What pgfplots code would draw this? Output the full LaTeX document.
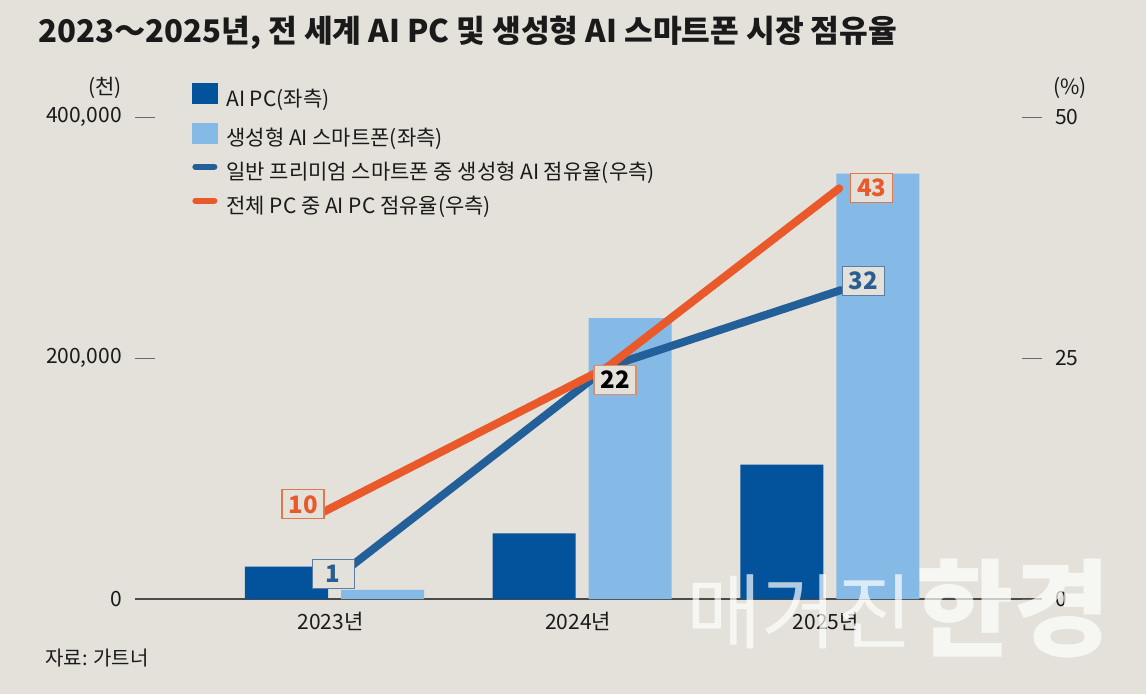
\documentclass[border=0pt]{standalone}
\usepackage{fontspec}
\setmainfont{Noto Sans CJK KR}
\usepackage{pgfplots}
\pgfplotsset{compat=1.18}
\definecolor{bg}{HTML}{E3E1DA}
\definecolor{txt}{HTML}{1A1A1A}
\definecolor{darkbar}{HTML}{02529C}
\definecolor{lightbar}{HTML}{85BAE6}
\definecolor{blueline}{HTML}{23609A}
\definecolor{orangeline}{HTML}{E9592A}
\definecolor{tickc}{HTML}{6A6A6A}
\definecolor{axisc}{HTML}{4A4A4A}
\definecolor{orangeb}{HTML}{E0784C}
\definecolor{blueb}{HTML}{5A7DA2}
\definecolor{saltb}{HTML}{D98E6C}
\definecolor{bluetxt}{HTML}{2A5E92}
\tikzset{lab/.style={fill=bg, minimum width=42pt, minimum height=29pt, inner sep=0pt,
    line width=1.3pt, font=\bfseries\fontsize{24}{24}\selectfont}}
\begin{document}
\begin{tikzpicture}
\useasboundingbox (0pt,0pt) rectangle (1146pt,694pt);
\fill[bg] (0pt,0pt) rectangle (1146pt,694pt);
\node[anchor=base west, inner sep=0pt, text=txt, font=\bfseries\fontsize{31.2}{36}\selectfont] at (38pt,651pt) {2023～2025년, 전 세계 AI PC 및 생성형 AI 스마트폰 시장 점유율};
\node[anchor=east, inner sep=0pt, text=txt, font=\fontsize{21}{24}\selectfont] at (122pt,606pt) {(천)};
\node[anchor=west, inner sep=0pt, text=txt, font=\fontsize{21}{24}\selectfont] at (1053pt,606pt) {(\%)};
\node[anchor=west, inner sep=0pt, text=txt, font=\fontsize{20}{24}\selectfont] at (45pt,36pt) {자료: 가트너};

\begin{axis}[
  at={(135pt,95pt)}, anchor=south west, scale only axis,
  width=907pt, height=482pt,
  xmin=-0.8056, xmax=2.857, ymin=0, ymax=400000,
  axis x line*=bottom, axis y line*=left,
  x axis line style={draw=axisc, line width=1.2pt},
  y axis line style={draw=none},
  xtick={0,1,2}, xticklabels={2023년,2024년,2025년},
  xtick style={draw=none},
  ytick={0,200000,400000}, yticklabels={0,{200,000},{400,000}},
  scaled y ticks=false,
  tick align=inside, major tick length=20pt,
  ytick style={draw=tickc, line width=1pt},
  tick label style={font=\fontsize{21}{24}\selectfont, text=txt},
  yticklabel style={inner sep=0pt, xshift=-13pt},
  xticklabel style={inner sep=0pt, yshift=-13pt, xshift=-4pt},
  clip=false,
  legend style={at={(0.0628,1.070)}, anchor=north west, draw=none, fill=none,
    inner sep=0pt, row sep=10pt, font=\fontsize{21}{24}\selectfont,
    nodes={inner sep=1pt, text=txt, text height=17pt, text depth=5pt},
    /tikz/every even column/.append style={column sep=0pt}},
  legend cell align=left,
]
\addplot[ybar, bar width=83pt, bar shift=-48pt, fill=darkbar, draw=none, forget plot]
  coordinates {(0,26800) (1,54500) (2,111500)};
\addplot[ybar, bar width=83pt, bar shift=48pt, fill=lightbar, draw=none, forget plot]
  coordinates {(0,7500) (1,233000) (2,353000)};
\addlegendimage{legend image code/.code={\fill[darkbar] (0pt,-3pt) rectangle (25pt,17pt); \path[draw=none] (0pt,7pt) -- (33pt,7pt);}}
\addlegendentry{AI PC(좌측)}
\addlegendimage{legend image code/.code={\fill[lightbar] (0pt,-3pt) rectangle (25pt,17pt); \path[draw=none] (0pt,7pt) -- (33pt,7pt);}}
\addlegendentry{생성형 AI 스마트폰(좌측)}
\addlegendimage{legend image code/.code={\draw[blueline, line width=6pt, line cap=round] (3pt,7pt) -- (22pt,7pt); \path[draw=none] (0pt,7pt) -- (33pt,7pt);}}
\addlegendentry{일반 프리미엄 스마트폰 중 생성형 AI 점유율(우측)}
\addlegendimage{legend image code/.code={\draw[orangeline, line width=6pt, line cap=round] (3pt,7pt) -- (22pt,7pt); \path[draw=none] (0pt,7pt) -- (33pt,7pt);}}
\addlegendentry{전체 PC 중 AI PC 점유율(우측)}
\end{axis}

\begin{axis}[
  at={(135pt,95pt)}, anchor=south west, scale only axis,
  width=907pt, height=482pt,
  xmin=-0.8056, xmax=2.857, ymin=0, ymax=50,
  axis x line=none, axis y line*=right,
  y axis line style={draw=none},
  ytick={0,25,50}, yticklabels={0,25,50},
  tick align=inside, major tick length=20pt,
  ytick style={draw=tickc, line width=1pt},
  tick label style={font=\fontsize{21}{24}\selectfont, text=txt},
  yticklabel style={inner sep=0pt, xshift=13pt},
  clip=false,
]
\addplot[blueline, line width=8pt, line cap=round, line join=round]
  coordinates {(0,2.07) (1.103,24.07) (2.046,32.05)};
\addplot[orangeline, line width=8pt, line cap=round, line join=round]
  coordinates {(-0.07,8.7) (1.103,24.07) (2.038,42.6)};
\node[lab, draw=orangeb, text=orangeline] at (axis cs:-0.127,9.82) {10};
\node[lab, draw=blueb, text=bluetxt] at (axis cs:-0.0053,2.61) {1};
\node[lab, draw=saltb, text=black] at (axis cs:1.133,22.72) {22};
\node[lab, draw=orangeb, text=orangeline] at (axis cs:2.169,42.63) {43};
\node[lab, draw=blueb, text=bluetxt] at (axis cs:2.135,32.96) {32};
\end{axis}

\node[anchor=base west, inner sep=0pt, text=white, opacity=0.7, font=\fontsize{82}{88}\selectfont] at (686pt,52pt) {매거진};
\node[anchor=base west, inner sep=0pt, text=white, opacity=0.7, font=\bfseries\fontsize{106}{110}\selectfont] at (916pt,46pt) {한경};
\end{tikzpicture}
\end{document}
